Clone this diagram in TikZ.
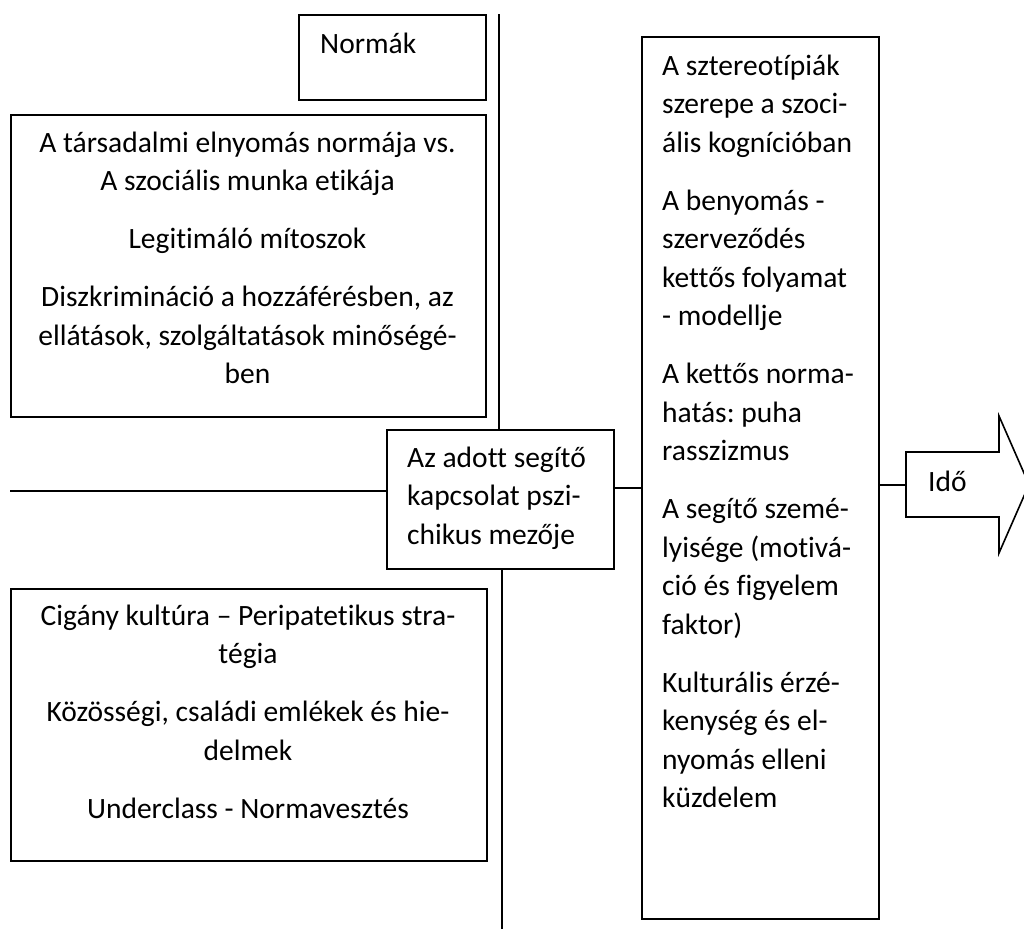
\documentclass[tikz,border=0pt]{standalone}
\usepackage{fontspec}
\setmainfont{Carlito}[Ligatures=NoCommon]
\frenchspacing
\begin{document}
\begin{tikzpicture}[x=1pt,y=-1pt,
  boxnode/.style={draw, rectangle, line width=1.6pt, inner sep=0pt, anchor=north west},
  txt/.style={inner sep=0pt, font=\fontsize{29.5}{38.5}\selectfont\frenchspacing},
  conn/.style={line width=1.5pt}]
\useasboundingbox (0,0) rectangle (1024,929);
\newcommand{\fs}{\rule{0pt}{28pt}}
% boxes
\node[boxnode, minimum width=187pt, minimum height=85pt] (normak) at (298,14) {};
\node[boxnode, minimum width=475pt, minimum height=302pt] (felso) at (10,114) {};
\node[boxnode, minimum width=227pt, minimum height=139pt] (kozep) at (386,429) {};
\node[boxnode, minimum width=476pt, minimum height=272pt] (also) at (10,588) {};
\node[boxnode, minimum width=237pt, minimum height=882pt] (jobb) at (641,36) {};
% texts
\node[txt, anchor=north west, align=left] (tnormak) at (320,25) {\fs Normák};
\node[txt, anchor=north, align=center] (tfelso) at (247.5,124) {\fs A társadalmi elnyomás normája vs.\\A szociális munka etikája\\[19.5pt]Legitimáló mítoszok\\[19.5pt]Diszkrimináció a hozzáférésben, az\\ellátások, szolgáltatások minőségé-\\ben};
\node[txt, anchor=north west, align=left] (tkozep) at (407,439) {\fs Az adott segítő\\kapcsolat pszi-\\chikus mezője};
\node[txt, anchor=north, align=center] (talso) at (248,597) {\fs Cigány kultúra – Peripatetikus stra-\\tégia\\[19.5pt]Közösségi, családi emlékek és hie-\\delmek\\[19.5pt]Underclass - Normavesztés};
\node[txt, anchor=north west, align=left] (tjobb) at (662,47) {\fs A sztereotípiák\\szerepe a szoci-\\ális kognícióban\\[19.5pt]A benyomás -\\szerveződés\\kettős folyamat\\- modellje\\[19.5pt]A kettős norma-\\hatás: puha\\rasszizmus\\[19.5pt]A segítő szemé-\\lyisége (motivá-\\ció és figyelem\\faktor)\\[19.5pt]Kulturális érzé-\\kenység és el-\\nyomás elleni\\küzdelem};
% arrow
\draw[line width=1.6pt] (906,452) -- (999,452) -- (999,416) -- (1029,484.5) -- (999,553) -- (999,517) -- (906,517) -- cycle;
\coordinate (nyilveg) at (906,484.5);
\node[txt, anchor=north west] (tido) at (928,463) {\fs Idő};
% connectors
\coordinate (vtop) at (499,14);
\coordinate (vbot) at (502,929);
\coordinate (lend) at (10,491);
\draw[conn] (vtop) -- (vtop |- kozep.north);
\draw[conn] (kozep.south -| vbot) -- (vbot);
\draw[conn] (lend) -- (lend -| kozep.west);
\draw[conn] ([yshift=11.5pt]kozep.east) -- ([yshift=11.5pt]kozep.east -| jobb.west);
\draw[conn] ([yshift=-7pt]jobb.east) -- ([yshift=-7pt]jobb.east -| nyilveg);
\end{tikzpicture}
\end{document}
